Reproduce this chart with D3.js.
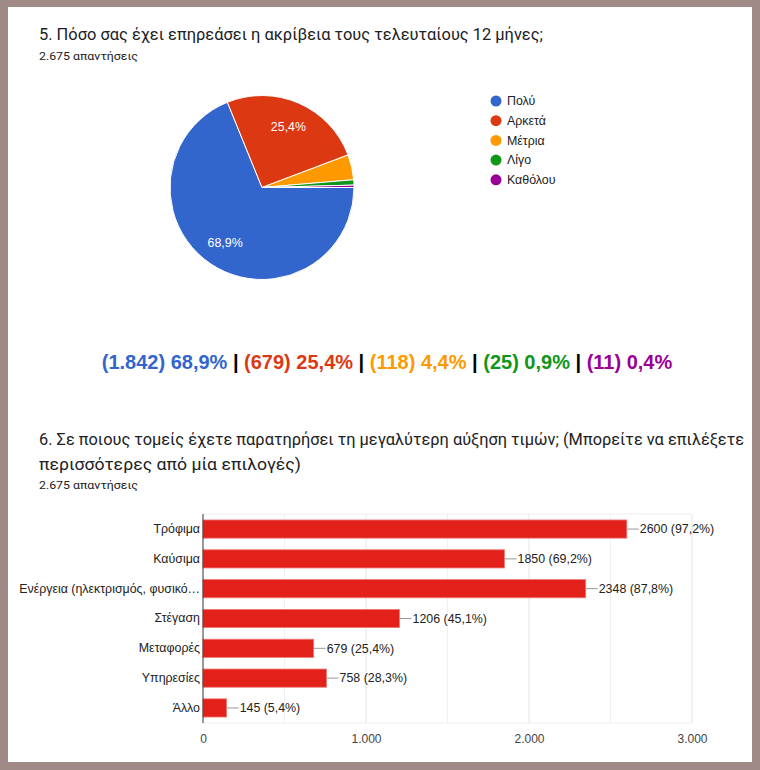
<html>
  <head>
    <meta charset="utf-8">
    <script src="https://cdnjs.cloudflare.com/ajax/libs/d3/7.8.5/d3.min.js"></script>
    <style>
    body { margin: 0; background: #a08a87; }
    svg { display: block; }
    .title { font-family: Roboto, sans-serif; font-size: 16.4px; fill: #202124; }
    .sub { font-family: Roboto, sans-serif; font-size: 11.5px; fill: #202124; }
    .lbl { font-family: "Liberation Sans", Arial, sans-serif; font-size: 12.4px; fill: #222; }
    </style>
  </head>
  <body>
    <svg id="chart" width="760" height="770"></svg>
    <script>
    // pie data (question 5)
    var pieLabels = ['Πολύ', 'Αρκετά', 'Μέτρια', 'Λίγο', 'Καθόλου'];
    var pieValues = [1842, 679, 118, 25, 11];
    var pieColors = ['#3366cc', '#dc3912', '#ff9900', '#109618', '#990099'];

    // bar data (question 6)
    var barLabels = ['Τρόφιμα', 'Καύσιμα', 'Ενέργεια (ηλεκτρισμός, φυσικό…', 'Στέγαση',
                     'Μεταφορές', 'Υπηρεσίες', 'Άλλο'];
    var barValues = [2600, 1850, 2348, 1206, 679, 758, 145];
    var xTicks = [0, 1000, 2000, 3000];
    var total = 2675;

    var svg = d3.select('#chart');
    var fmtPct = function(v) { return (v / total * 100).toFixed(1).replace('.', ',') + '%'; };
    var fmtNum = function(v) { return d3.format(',')(v).replace(/,/g, '.'); };

    function addText(cls, x, y, len, str) {
      return svg.append('text').attr('class', cls).attr('x', x).attr('y', y)
        .attr('textLength', len).attr('lengthAdjust', 'spacingAndGlyphs').text(str);
    }

    svg.append('rect').attr('x', 8).attr('y', 7).attr('width', 744).attr('height', 755).attr('fill', '#fff');

    addText('title', 39, 40, 504, '5. Πόσο σας έχει επηρεάσει η ακρίβεια τους τελευταίους 12 μήνες;');
    addText('sub', 39, 60, 99, fmtNum(total) + ' απαντήσεις');

    // pie
    var radius = 92;
    var pieG = svg.append('g').attr('transform', 'translate(262,187.5)');
    var pie = d3.pie().sort(null).startAngle(Math.PI / 2).endAngle(Math.PI / 2 + 2 * Math.PI);
    var arc = d3.arc().innerRadius(0).outerRadius(radius);
    var labelArc = d3.arc().innerRadius(66).outerRadius(66);
    var slices = pie(pieValues);

    pieG.selectAll('path')
      .data(slices)
      .enter()
      .append('path')
      .attr('d', arc)
      .attr('fill', function(d, i) { return pieColors[i]; })
      .attr('stroke', '#fff')
      .attr('stroke-width', 1);

    pieG.selectAll('text')
      .data(slices.filter(function(d) { return d.value / total > 0.1; }))
      .enter()
      .append('text')
      .attr('transform', function(d) { return 'translate(' + labelArc.centroid(d) + ')'; })
      .attr('text-anchor', 'middle')
      .attr('dy', '0.35em')
      .style('font-family', '"Liberation Sans", Arial, sans-serif')
      .style('font-size', '12.4px')
      .attr('fill', '#fff')
      .text(function(d) { return fmtPct(d.value); });

    // legend
    var legend = svg.selectAll('g.legend')
      .data(pieLabels)
      .enter()
      .append('g')
      .attr('class', 'legend')
      .attr('transform', function(d, i) { return 'translate(496,' + (101 + i * 19.7) + ')'; });
    legend.append('circle').attr('r', 5.5).attr('fill', function(d, i) { return pieColors[i]; });
    legend.append('text').attr('class', 'lbl').attr('x', 11).attr('dy', '0.35em').text(function(d) { return d; });

    // summary line
    var summary = svg.append('text')
      .attr('x', 387).attr('y', 369)
      .attr('text-anchor', 'middle')
      .style('font-family', '"Liberation Sans", Arial, sans-serif')
      .style('font-size', '20px')
      .style('font-weight', 'bold');
    pieValues.forEach(function(v, i) {
      if (i > 0) summary.append('tspan').attr('fill', '#000').text(' | ');
      summary.append('tspan').attr('fill', pieColors[i])
        .text('(' + fmtNum(v) + ') ' + fmtPct(v));
    });

    // question 6
    addText('title', 39, 445, 705, '6. Σε ποιους τομείς έχετε παρατηρήσει τη μεγαλύτερη αύξηση τιμών; (Μπορείτε να επιλέξετε');
    addText('title', 39, 470, 262, 'περισσότερες από μία επιλογές)');
    addText('sub', 39, 489, 99, fmtNum(total) + ' απαντήσεις');

    var x = d3.scaleLinear().domain([0, 3000]).range([203, 692]);
    var y = d3.scaleBand().domain(barLabels).range([514, 723]).paddingInner(0.39).paddingOuter(0.2);

    // gridlines every 500
    svg.append('g').selectAll('line')
      .data(d3.range(500, 3001, 500))
      .enter()
      .append('line')
      .attr('x1', function(d) { return x(d); }).attr('x2', function(d) { return x(d); })
      .attr('y1', 514).attr('y2', 723)
      .attr('stroke', function(d) { return d % 1000 === 0 ? '#e4e4e4' : '#f0f0f0'; });
    svg.append('line').attr('x1', 203).attr('x2', 692).attr('y1', 514).attr('y2', 514).attr('stroke', '#eee');
    svg.append('line').attr('x1', 203).attr('x2', 692).attr('y1', 723).attr('y2', 723).attr('stroke', '#eee');

    var bars = svg.append('g').selectAll('g')
      .data(barValues)
      .enter()
      .append('g');
    bars.append('rect')
      .attr('x', x(0))
      .attr('y', function(d, i) { return y(barLabels[i]); })
      .attr('width', function(d) { return x(d) - x(0); })
      .attr('height', y.bandwidth())
      .attr('fill', '#e3211b')
      .attr('stroke', '#ee7a76')
      .attr('stroke-width', 0.8);
    bars.append('line')
      .attr('x1', function(d) { return x(d); })
      .attr('x2', function(d) { return x(d) + 12; })
      .attr('y1', function(d, i) { return y(barLabels[i]) + y.bandwidth() / 2; })
      .attr('y2', function(d, i) { return y(barLabels[i]) + y.bandwidth() / 2; })
      .attr('stroke', '#999');
    bars.append('text')
      .attr('class', 'lbl')
      .attr('x', function(d) { return x(d) + 13; })
      .attr('y', function(d, i) { return y(barLabels[i]) + y.bandwidth() / 2; })
      .attr('dy', '0.35em')
      .text(function(d) { return d + ' (' + fmtPct(d) + ')'; });

    // category axis
    var yAxis = svg.append('g')
      .attr('transform', 'translate(203,0)')
      .call(d3.axisLeft(y).tickSize(0).tickPadding(3));
    yAxis.select('.domain').attr('stroke', '#333').attr('d', 'M0,514V723');
    yAxis.selectAll('text').attr('class', 'lbl').attr('fill', '#222')
      .style('font-family', '"Liberation Sans", Arial, sans-serif').style('font-size', '12.4px');

    var xAxis = svg.append('g')
      .attr('transform', 'translate(0,723)')
      .call(d3.axisBottom(x).tickValues(xTicks).tickSize(0).tickPadding(11)
        .tickFormat(function(d) { return fmtNum(d); }));
    xAxis.select('.domain').remove();
    xAxis.selectAll('text').attr('fill', '#444')
      .style('font-family', '"Liberation Sans", Arial, sans-serif').style('font-size', '12px');
    </script>
  </body>
</html>
